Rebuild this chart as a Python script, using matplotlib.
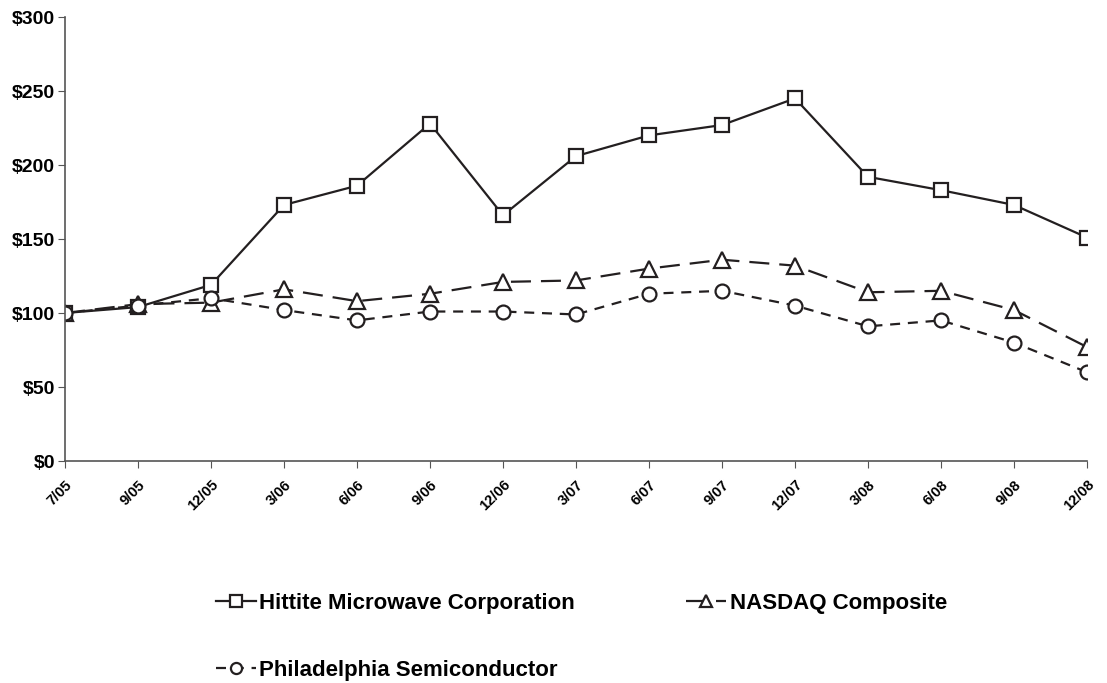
import matplotlib
matplotlib.use("Agg")
import matplotlib.pyplot as plt

plt.rcParams["font.family"] = ["Liberation Sans", "DejaVu Sans"]
plt.rcParams["font.weight"] = "bold"

quarters = ["7/05", "9/05", "12/05", "3/06", "6/06", "9/06", "12/06", "3/07",
            "6/07", "9/07", "12/07", "3/08", "6/08", "9/08", "12/08"]
hittite = [100, 104, 119, 173, 186, 228, 166, 206, 220, 227, 245, 192, 183, 173, 151]
nasdaq = [100, 106, 107, 116, 108, 113, 121, 122, 130, 136, 132, 114, 115, 102, 77]
phlx_semi = [100, 105, 110, 102, 95, 101, 101, 99, 113, 115, 105, 91, 95, 80, 60]

ink = "#231f20"

fig = plt.figure(figsize=(11.07, 6.83), dpi=100)
ax = fig.add_axes([65 / 1107, 1 - 461 / 683, (1087 - 65) / 1107, (461 - 17) / 683])

x = list(range(len(quarters)))
common = dict(color=ink, lw=1.6, markerfacecolor="white",
              markeredgecolor=ink, markeredgewidth=1.6)
h1, = ax.plot(x, hittite, "-", marker="s", markersize=10,
              label="Hittite Microwave Corporation", **common)
h2, = ax.plot(x, nasdaq, marker="^", markersize=11, linestyle=(0, (9, 4.5)),
              label="NASDAQ Composite", **common)
h3, = ax.plot(x, phlx_semi, marker="o", markersize=10, linestyle=(0, (4.5, 3.5)),
              label="Philadelphia Semiconductor", **common)

ax.set_xlim(0, len(quarters) - 1)
ax.set_ylim(0, 300)
ax.set_yticks(range(0, 301, 50))
ax.set_yticklabels([f"${v}" for v in range(0, 301, 50)], fontsize=14, fontweight="bold")
ax.set_xticks(x)
ax.set_xticklabels(quarters, rotation=45, ha="right", rotation_mode="anchor",
                   fontsize=10.5, fontweight="bold")
ax.tick_params(axis="x", length=5, color="#555555", pad=7)
ax.tick_params(axis="y", length=5, color="#555555", pad=2)
for s in ("top", "right"):
    ax.spines[s].set_visible(False)
for s in ("left", "bottom"):
    ax.spines[s].set_color("#555555")
    ax.spines[s].set_linewidth(1.2)

# column-major fill: Hittite / Philadelphia in col 1, NASDAQ in col 2
fig.legend([h1, h3, h2], [h1.get_label(), h3.get_label(), h2.get_label()],
           loc="upper left", bbox_to_anchor=(196 / 1107, 1 - 573 / 683), ncol=2,
           frameon=False, prop={"size": 16, "weight": "bold"},
           handlelength=1.8, handletextpad=0.15, columnspacing=5.0,
           labelspacing=2.05, markerscale=0.8)

fig.savefig("out.png", dpi=100)
